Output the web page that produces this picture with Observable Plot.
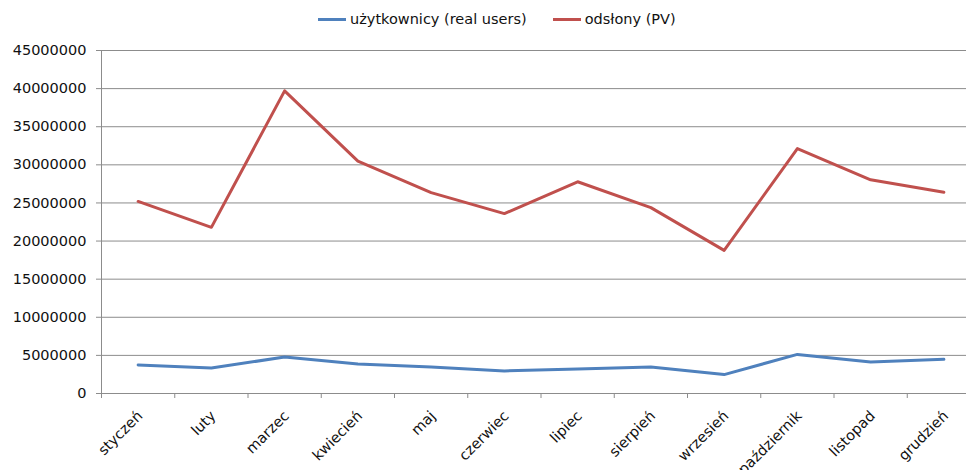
<!DOCTYPE html>
<html>
<head>
<meta charset="utf-8">
<script src="https://cdn.jsdelivr.net/npm/d3@7"></script>
<script src="https://cdn.jsdelivr.net/npm/@observablehq/plot@0.6"></script>
<style>
  html, body { margin: 0; padding: 0; overflow: hidden; background: #fff; width: 966px; height: 470px; }
  #legend { position: absolute; left: 318px; top: 11px; font-family: "DejaVu Sans", sans-serif; font-size: 14.5px; color: #111; display: flex; align-items: center; white-space: nowrap; }
  .sw { display: inline-block; width: 28px; height: 3px; margin-right: 4px; }
  .item { display: flex; align-items: center; margin-right: 26px; }
  #chart { position: absolute; left: 0; top: 35px; width: 980px; }
  #chart svg { max-width: none !important; }
</style>
</head>
<body>
<div id="legend"></div>
<div id="chart"></div>
<script>
const months = ["styczeń","luty","marzec","kwiecień","maj","czerwiec","lipiec","sierpień","wrzesień","październik","listopad","grudzień"];
const users = [3740000, 3350000, 4780000, 3870000, 3480000, 2960000, 3220000, 3480000, 2480000, 5130000, 4130000, 4480000];
const views = [25200000, 21800000, 39700000, 30480000, 26360000, 23600000, 27780000, 24390000, 18780000, 32130000, 28040000, 26390000];
const seriesNames = ["użytkownicy (real users)", "odsłony (PV)"];
const seriesColors = ["#4F81BD", "#C0504D"];
const yTicks = [0, 5000000, 10000000, 15000000, 20000000, 25000000, 30000000, 35000000, 40000000, 45000000];

const data = [];
months.forEach((m, i) => {
  data.push({i, series: seriesNames[0], value: users[i]});
  data.push({i, series: seriesNames[1], value: views[i]});
});

const legend = document.getElementById("legend");
seriesNames.forEach((n, k) => {
  const it = document.createElement("span");
  it.className = "item";
  it.innerHTML = `<span class="sw" style="background:${seriesColors[k]}"></span><span>${n}</span>`;
  legend.appendChild(it);
});

const idx = d3.range(months.length);
const bounds = d3.range(months.length + 1).map(i => i - 0.5);

const chart = Plot.plot({
  width: 980,
  height: 435,
  marginLeft: 101,
  marginRight: 0,
  marginTop: 15,
  marginBottom: 77,
  style: {fontFamily: "DejaVu Sans, sans-serif", fontSize: "14.5px", color: "#111", background: "#fff", maxWidth: "none"},
  x: {type: "linear", domain: [-0.5, months.length - 0.5]},
  y: {domain: [0, 45000000]},
  color: {domain: seriesNames, range: seriesColors},
  marks: [
    Plot.gridY(yTicks, {stroke: "#8c8c8c", strokeOpacity: 1}),
    Plot.ruleX([-0.5], {stroke: "#8c8c8c"}),
    Plot.ruleY([0], {stroke: "#8c8c8c"}),
    Plot.axisY(yTicks, {tickSize: 5, tickPadding: 10, stroke: "#8c8c8c", tickFormat: d => String(d), label: null}),
    Plot.axisX(bounds, {tickSize: 5, stroke: "#8c8c8c", tickFormat: () => "", label: null}),
    Plot.axisX(idx, {tickSize: 0, tickPadding: 20, dx: 2, tickRotate: -45, tickFormat: i => months[i], label: null}),
    Plot.line(data, {x: "i", y: "value", z: "series", stroke: "series", strokeWidth: 3, strokeLinejoin: "round"})
  ]
});
chart.style.maxWidth = "none";
document.getElementById("chart").appendChild(chart);
</script>
</body>
</html>
